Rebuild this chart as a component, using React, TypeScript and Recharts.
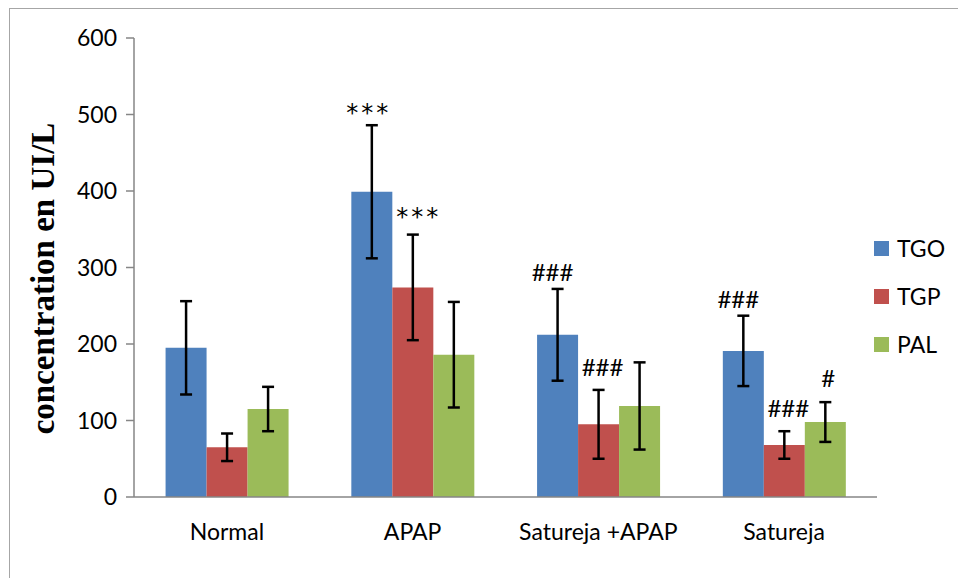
import React from "react";
import {
  BarChart,
  Bar,
  XAxis,
  YAxis,
  ErrorBar,
  LabelList,
  Legend,
} from "recharts";

const categories = ["Normal", "APAP", "Satureja +APAP", "Satureja"];
const tgo = [195, 399, 212, 191];
const tgp = [65, 274, 95, 68];
const pal = [115, 186, 119, 98];
const tgoSd = [61, 87, 60, 46];
const tgpSd = [18, 69, 45, 18];
const palSd = [29, 69, 57, 26];
const tgoMarks = ["", "***", "###", "###"];
const tgpMarks = ["", "***", "###", "###"];
const palMarks = ["", "", "", "#"];
const yTicks = [0, 100, 200, 300, 400, 500, 600];
const edgeTicks = [0, 1, 2, 3, 4];

const series = [
  { key: "TGO", color: "#4F81BD" },
  { key: "TGP", color: "#C0504D" },
  { key: "PAL", color: "#9BBB59" },
];

const data = categories.map((name, i) => ({
  name,
  TGO: tgo[i],
  TGP: tgp[i],
  PAL: pal[i],
  tgoSd: tgoSd[i],
  tgpSd: tgpSd[i],
  palSd: palSd[i],
}));

const FONT = "Lato, 'Open Sans', sans-serif";
const AXIS = "#868686";

// draws the significance mark just above the top of the error bar
const markRenderer =
  (values: number[], sds: number[], marks: string[], dx: number, gap: number) =>
  (props: any) => {
    const i = props.index;
    const text = marks[i];
    if (!text) return null;
    const vb = props.viewBox || props;
    const x = vb.x ?? props.x;
    const y = vb.y ?? props.y;
    const w = vb.width ?? props.width;
    const h = vb.height ?? props.height;
    const perUnit = Math.abs(h) / values[i];
    const errTop = Math.min(y, y + h) - sds[i] * perUnit;
    const star = text.includes("*");
    return (
      <text
        x={x + w / 2 + dx + (star ? 2 : 0)}
        y={errTop - gap + (star ? 4 : 0)}
        textAnchor="middle"
        fontFamily={star ? "'DejaVu Sans', sans-serif" : FONT}
        fontSize={24}
        letterSpacing={star ? 3 : 0}
        fill="#000"
      >
        {text}
      </text>
    );
  };

const renderLegend = () => (
  <div style={{ fontFamily: FONT, fontSize: 23, color: "#000" }}>
    {series.map((s) => (
      <div
        key={s.key}
        style={{ display: "flex", alignItems: "center", height: 48 }}
      >
        <span
          style={{
            display: "inline-block",
            width: 15,
            height: 15,
            background: s.color,
            marginRight: 8,
          }}
        />
        <span>{s.key}</span>
      </div>
    ))}
  </div>
);

const YTitle = (props: any) => {
  const vb = props.viewBox;
  const cx = vb.x + 43;
  const cy = vb.y + vb.height / 2 + 11;
  return (
    <text
      x={cx}
      y={cy}
      transform={`rotate(-90, ${cx}, ${cy})`}
      textAnchor="middle"
      dominantBaseline="central"
      fontFamily="'Liberation Serif', 'Times New Roman', serif"
      fontWeight="bold"
      fontSize={33}
      fill="#000"
    >
      concentration en UI/L
    </text>
  );
};

export default function App() {
  return (
    <div
      style={{
        position: "absolute",
        left: 0,
        top: 0,
        width: 958,
        height: 578,
        overflow: "hidden",
        background: "#fff",
      }}
    >
      <div
        style={{
          position: "absolute",
          left: 9,
          top: 8,
          width: 2000,
          height: 2000,
          borderLeft: "1.5px solid #a6a6a6",
          borderTop: "1.5px solid #a6a6a6",
        }}
      />
      <div style={{ position: "absolute", left: 0, top: 0 }}>
        <BarChart
          width={958}
          height={578}
          data={data}
          margin={{ top: 38, right: 81, bottom: 0, left: 0 }}
          barCategoryGap="17%"
          barGap={0}
        >
          <XAxis
            xAxisId="edges"
            type="number"
            domain={[0, 4]}
            ticks={edgeTicks}
            tick={false}
            axisLine={false}
            tickLine={{ stroke: AXIS, strokeWidth: 1.5 }}
            tickSize={8}
            height={0}
          />
          <XAxis
            xAxisId="cat"
            dataKey="name"
            height={81}
            tickLine={false}
            axisLine={{ stroke: AXIS, strokeWidth: 1.5 }}
            tickSize={8}
            tickMargin={19}
            tick={{ fill: "#000", fontFamily: FONT, fontSize: 23 }}
          />
          <YAxis
            width={134}
            domain={[0, 600]}
            ticks={yTicks}
            interval={0}
            axisLine={{ stroke: AXIS, strokeWidth: 1.5 }}
            tickLine={{ stroke: AXIS, strokeWidth: 1.5 }}
            tickSize={8}
            tickMargin={9}
            tick={{ fill: "#000", fontFamily: FONT, fontSize: 23 }}
            label={{ content: YTitle }}
          />
          <Legend
            layout="vertical"
            align="center"
            verticalAlign="middle"
            content={renderLegend}
            wrapperStyle={{ left: 874, top: 224, width: 84 }}
          />
          {series.map((s, si) => {
            const vals = [tgo, tgp, pal][si];
            const sds = [tgoSd, tgpSd, palSd][si];
            const marks = [tgoMarks, tgpMarks, palMarks][si];
            const dx = [-5, 4, 3][si];
            const gap = [8, 14, 15][si];
            return (
              <Bar
                key={s.key}
                xAxisId="cat"
                dataKey={s.key}
                fill={s.color}
                isAnimationActive={false}
              >
                <ErrorBar
                  dataKey={["tgoSd", "tgpSd", "palSd"][si]}
                  direction="y"
                  width={6}
                  stroke="#000"
                  strokeWidth={2.5}
                />
                <LabelList
                  dataKey={s.key}
                  content={markRenderer(vals, sds, marks, dx, gap)}
                />
              </Bar>
            );
          })}
        </BarChart>
      </div>
    </div>
  );
}
